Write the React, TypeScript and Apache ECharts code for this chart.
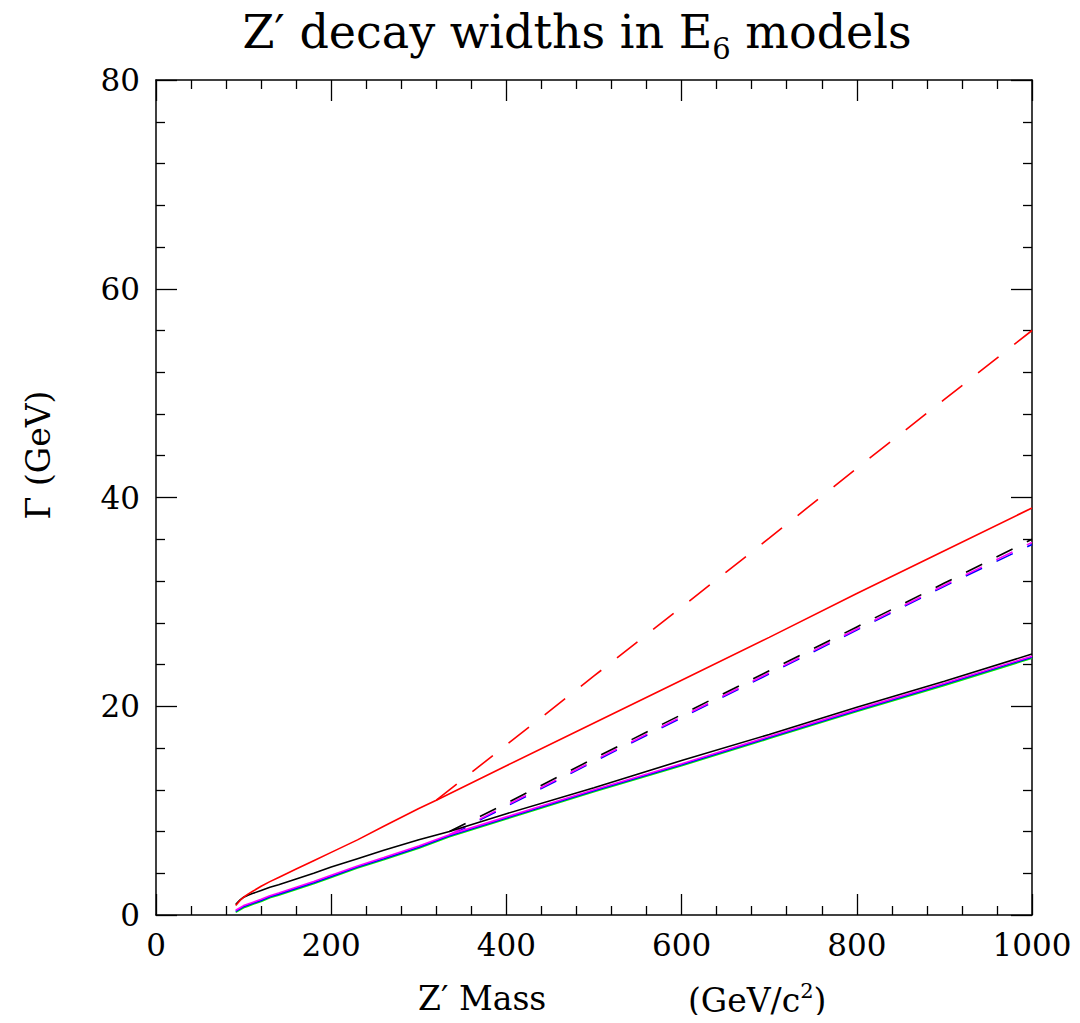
import React, { useEffect, useRef } from "react";
import * as echarts from "echarts";

// Z' mass grid (GeV/c^2)
const massLow = [91, 93, 96, 100, 105, 110, 120, 130, 140, 160, 180, 200, 230, 260, 300];
const massHigh = [400, 500, 600, 700, 800, 900, 1000];

// Solid widths (GeV)
const redSolidLow = [0.9, 1.1, 1.4, 1.7, 2.0, 2.25, 2.75, 3.2, 3.6, 4.4, 5.2, 6.0, 7.2, 8.5, 10.2];
const redSolidHigh = [14.3, 18.4, 22.5, 26.6, 30.8, 34.9, 39.0];
const blackSolidLow = [1.0, 1.2, 1.45, 1.7, 1.9, 2.05, 2.35, 2.65, 2.9, 3.45, 4.0, 4.6, 5.4, 6.2, 7.2];
const blackSolidHigh = [9.7, 12.2, 14.8, 17.3, 19.9, 22.4, 25.0];
const blueSolidLow = [0.35, 0.45, 0.6, 0.8, 0.95, 1.1, 1.4, 1.75, 2.0, 2.55, 3.1, 3.7, 4.6, 5.4, 6.5];
const blueSolidHigh = [9.3, 11.9, 14.4, 17.0, 19.6, 22.1, 24.7];
const magentaSolidLow = [0.45, 0.55, 0.7, 0.9, 1.05, 1.2, 1.5, 1.85, 2.1, 2.65, 3.2, 3.8, 4.7, 5.5, 6.6];
const magentaSolidHigh = [9.4, 12.0, 14.5, 17.1, 19.7, 22.2, 24.8];
const greenSolidLow = [0.25, 0.35, 0.5, 0.7, 0.85, 1.0, 1.3, 1.65, 1.9, 2.45, 3.0, 3.6, 4.5, 5.3, 6.4];
const greenSolidHigh = [9.2, 11.8, 14.3, 16.9, 19.5, 22.0, 24.6];

// Branch points (threshold) and values
const redBranch = [320, 11.0];
const blackBranch = [335, 8.0];
const blueBranch = [335, 7.6];

// Dashed widths above threshold (GeV)
const redDashed = [16.3, 22.9, 29.5, 36.1, 42.8, 49.4, 56.0];
const blackDashed = [10.7, 15.0, 19.2, 23.4, 27.6, 31.8, 36.0];
const magentaDashed = [10.5, 14.8, 19.0, 23.2, 27.4, 31.6, 35.7];
const blueDashed = [10.4, 14.7, 18.9, 23.1, 27.3, 31.5, 35.5];

const zip = (xs: number[], ys: number[]) => xs.map((x, i) => [x, ys[i]]);

const FONT = "DejaVu Serif";

export default function App() {
  const ref = useRef<HTMLDivElement>(null);
  useEffect(() => {
    if (!ref.current) return;
    const chart = echarts.init(ref.current, undefined, { renderer: "svg" });

    const solid = (name: string, color: string, low: number[], mid: number[], high: number[], z: number) => ({
      name,
      type: "line",
      showSymbol: false,
      symbol: "none",
      smooth: false,
      z,
      lineStyle: { color, width: 1.6 },
      data: [...zip(massLow, low), mid, ...zip(massHigh, high)],
    });
    const dashed = (name: string, color: string, start: number[], high: number[], dash: number[], z: number) => ({
      name,
      type: "line",
      showSymbol: false,
      symbol: "none",
      z,
      lineStyle: { color, width: 1.6, type: dash },
      data: [start, ...zip(massHigh, high)],
    });

    const axisCommon = {
      type: "value",
      axisLine: { show: true, onZero: false, lineStyle: { color: "#000", width: 1.5 } },
      axisTick: { show: true, inside: true, length: 21, lineStyle: { color: "#000", width: 1.3 } },
      minorTick: { show: true, splitNumber: 5, length: 9, lineStyle: { color: "#000", width: 1.3 } },
      splitLine: { show: false },
    };
    const label = { show: true, fontFamily: FONT, fontSize: 31, fontWeight: "normal", color: "#000", formatter: (v: number) => String(v) };

    chart.setOption({
      animation: false,
      backgroundColor: "#fff",
      title: {
        text: "{t|Z′ decay widths in E}{s|6}{t| models}",
        left: 572,
        top: 4,
        textAlign: "center",
        textStyle: {
          rich: {
            t: { fontFamily: FONT, fontSize: 46, fontWeight: "normal", color: "#000", verticalAlign: "bottom" },
            s: { fontFamily: FONT, fontSize: 29, fontWeight: "normal", color: "#000", verticalAlign: "bottom", padding: [0, 0, -8, 0] },
          },
        },
      },
      grid: { left: 156, right: 48, top: 80, bottom: 108, containLabel: false },
      xAxis: [
        { ...axisCommon, position: "bottom", min: 0, max: 1000, interval: 200, axisLabel: { ...label, margin: 14 } },
        { ...axisCommon, position: "top", min: 0, max: 1000, interval: 200, axisLabel: { show: false } },
      ],
      yAxis: [
        { ...axisCommon, position: "left", min: 0, max: 80, interval: 20, axisLabel: { ...label, margin: 16 } },
        { ...axisCommon, position: "right", min: 0, max: 80, interval: 20, axisLabel: { show: false } },
      ],
      graphic: [
        {
          type: "text",
          left: 418,
          top: 982,
          style: { text: "Z′ Mass", fontFamily: FONT, fontSize: 33, fill: "#000" },
        },
        {
          type: "text",
          left: 688,
          top: 980,
          style: {
            text: "{t|(GeV/c}{s|2}{t|)}",
            rich: {
              t: { fontFamily: FONT, fontSize: 33, fill: "#000", verticalAlign: "bottom" },
              s: { fontFamily: FONT, fontSize: 21, fill: "#000", verticalAlign: "bottom", padding: [0, 0, 16, 0] },
            },
          },
        },
        {
          type: "text",
          x: 38,
          y: 455,
          rotation: Math.PI / 2,
          style: {
            text: "Γ (GeV)",
            fontFamily: FONT,
            fontSize: 33,
            fill: "#000",
            align: "center",
            verticalAlign: "middle",
          },
        },
      ],
      series: [
        solid("green", "#00ee00", greenSolidLow, [blueBranch[0], blueBranch[1] - 0.1], greenSolidHigh, 1),
        solid("blue", "#0000ff", blueSolidLow, blueBranch, blueSolidHigh, 2),
        solid("magenta", "#ff00ff", magentaSolidLow, [blueBranch[0], blueBranch[1] + 0.1], magentaSolidHigh, 3),
        solid("black", "#000000", blackSolidLow, blackBranch, blackSolidHigh, 4),
        solid("red", "#ff0000", redSolidLow, redBranch, redSolidHigh, 5),
        dashed("blue dashed", "#0000ff", blueBranch, blueDashed, [18, 16], 2),
        dashed("magenta dashed", "#ff00ff", [blueBranch[0], blueBranch[1] + 0.1], magentaDashed, [18, 16], 3),
        dashed("black dashed", "#000000", blackBranch, blackDashed, [18, 16], 4),
        dashed("red dashed", "#ff0000", redBranch, redDashed, [26, 20], 5),
      ],
    });
    return () => chart.dispose();
  }, []);
  return <div ref={ref} style={{ width: 1080, height: 1023, margin: -8 }} />;
}
